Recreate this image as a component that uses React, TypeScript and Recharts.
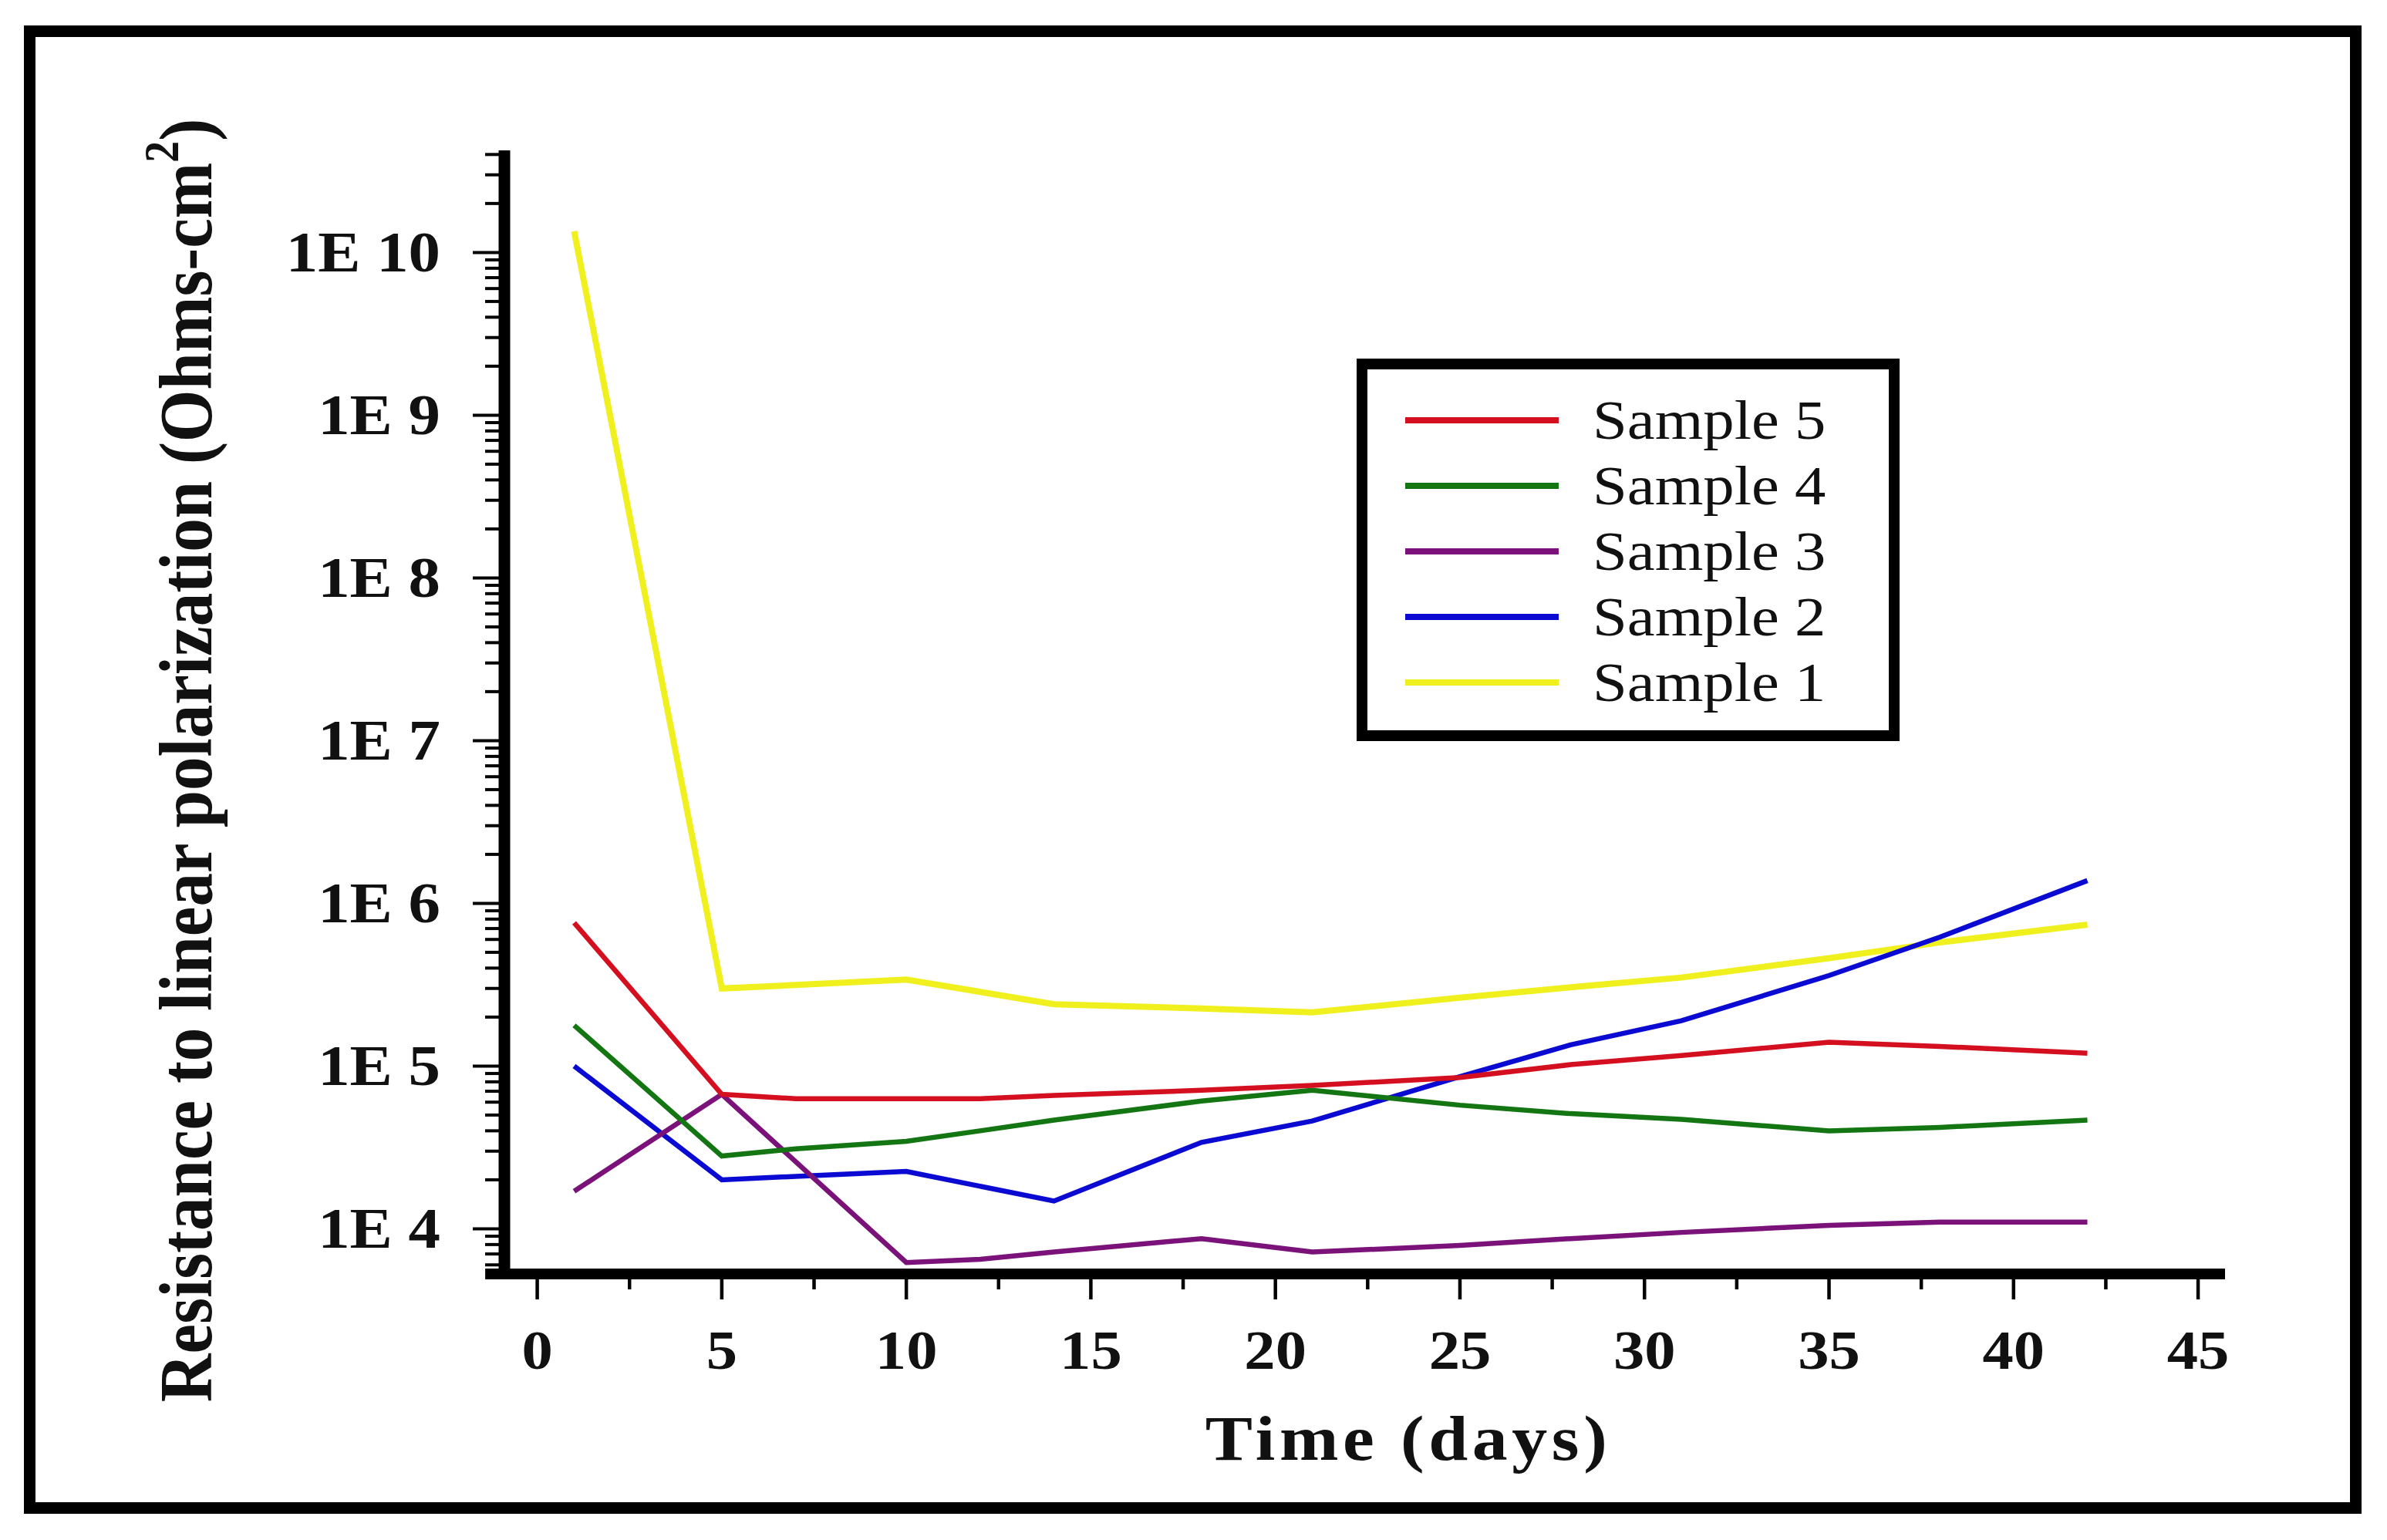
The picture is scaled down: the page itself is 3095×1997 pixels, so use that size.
import React from "react";
import { LineChart, Line, XAxis, YAxis, Legend, ReferenceLine } from "recharts";

const FONT = 'Liberation Serif, "Times New Roman", Times, serif';

const days1 = [1, 5, 7, 10, 14, 18, 21, 25, 28, 31, 35, 38, 42];
const sample1 = [1.35e10, 3.0e5, 3.15e5, 3.4e5, 2.4e5, 2.26e5, 2.14e5, 2.63e5, 3.05e5, 3.5e5, 4.6e5, 5.75e5, 7.4e5];

const days2 = [1, 5, 7, 10, 14, 18, 21, 25, 28, 31, 35, 38, 42];
const sample2 = [1.0e5, 2.0e4, 2.1e4, 2.25e4, 1.48e4, 3.4e4, 4.6e4, 8.6e4, 1.35e5, 1.9e5, 3.6e5, 6.2e5, 1.38e6];

const days3 = [1, 5, 10, 12, 14, 18, 21, 25, 28, 31, 35, 38, 42];
const sample3 = [1.7e4, 6.7e4, 6.2e3, 6.5e3, 7.2e3, 8.7e3, 7.2e3, 7.9e3, 8.7e3, 9.5e3, 1.05e4, 1.1e4, 1.1e4];

const days4 = [1, 5, 7, 10, 12, 14, 18, 21, 25, 28, 31, 35, 38, 42];
const sample4 = [1.78e5, 2.8e4, 3.1e4, 3.45e4, 4.0e4, 4.65e4, 6.1e4, 7.1e4, 5.75e4, 5.1e4, 4.7e4, 4.0e4, 4.2e4, 4.65e4];

const days5 = [1, 5, 7, 10, 12, 14, 18, 21, 25, 28, 31, 35, 38, 42];
const sample5 = [7.6e5, 6.7e4, 6.3e4, 6.3e4, 6.3e4, 6.6e4, 7.1e4, 7.6e4, 8.5e4, 1.02e5, 1.16e5, 1.4e5, 1.32e5, 1.2e5];

const xTicks = [0, 2.5, 5, 7.5, 10, 12.5, 15, 17.5, 20, 22.5, 25, 27.5, 30, 32.5, 35, 37.5, 40, 42.5, 45];
const yMajorTicks = [1e4, 1e5, 1e6, 1e7, 1e8, 1e9, 1e10];
const yLabels = ["1E 4", "1E 5", "1E 6", "1E 7", "1E 8", "1E 9", "1E 10"];

const X_MIN = -0.89;
const X_MAX = 45.73;
const Y_MIN = 5277;
const Y_MAX = 4.24e10;

// log minor ticks 2..9 in every decade, kept inside the axis range
const yTicks = [1e3, ...yMajorTicks]
  .flatMap((m) => [1, 2, 3, 4, 5, 6, 7, 8, 9].map((k) => k * m))
  .filter((v) => v >= Y_MIN && v <= Y_MAX);

const series = [
  { name: "Sample 1", days: days1, values: sample1, color: "#f0f01e", width: 8 },
  { name: "Sample 2", days: days2, values: sample2, color: "#0a0ad2", width: 6.5 },
  { name: "Sample 3", days: days3, values: sample3, color: "#7a127a", width: 6.5 },
  { name: "Sample 4", days: days4, values: sample4, color: "#137613", width: 6.5 },
  { name: "Sample 5", days: days5, values: sample5, color: "#d41020", width: 6.5 },
];

function YTick({ x, y, payload }: any) {
  const i = yMajorTicks.indexOf(payload.value);
  const major = i >= 0;
  return (
    <g>
      <line x1={x - (major ? 41 : 25)} x2={x} y1={y} y2={y} stroke="#000" strokeWidth={4} />
      {major && (
        <text
          transform={`translate(${x - 83},${y}) scale(1.12,1)`}
          textAnchor="end"
          dy="0.33em"
          fontSize={74}
          fontWeight="bold"
          fontFamily={FONT}
          fill="#111"
        >
          {yLabels[i]}
        </text>
      )}
    </g>
  );
}

function XTick({ x, y, payload }: any) {
  const major = payload.value % 5 === 0;
  return (
    <g>
      <line x1={x} x2={x} y1={y} y2={y + (major ? 33 : 20)} stroke="#000" strokeWidth={4.5} />
      {major && (
        <text
          transform={`translate(${x},${y + 123}) scale(1.12,1)`}
          textAnchor="middle"
          fontSize={72}
          fontWeight="bold"
          fontFamily={FONT}
          fill="#111"
        >
          {payload.value}
        </text>
      )}
    </g>
  );
}

function XTitle({ viewBox }: any) {
  return (
    <text
      transform={`translate(${viewBox.x + 1172},${viewBox.y + 241}) scale(1.12,1)`}
      textAnchor="middle"
      fontSize={82}
      fontWeight="bold"
      fontFamily={FONT}
      letterSpacing={5}
      fill="#111"
    >
      Time (days)
    </text>
  );
}

function YTitle({ viewBox }: any) {
  return (
    <text
      transform={`translate(274,${viewBox.y + 791}) scale(1.12,1) rotate(-90)`}
      textAnchor="middle"
      fontSize={87}
      fontWeight="bold"
      fontFamily={FONT}
      fill="#111"
    >
      Resistance to linear polarization (Ohms-cm
      <tspan dy={-38} fontSize={56}>2</tspan>
      <tspan dy={38}>)</tspan>
    </text>
  );
}

function LegendBox({ payload }: any) {
  const items = [...(payload ?? [])].reverse();
  return (
    <div
      style={{
        width: 704,
        height: 496,
        boxSizing: "border-box",
        border: "14px solid #000",
        paddingTop: 23,
        background: "#fff",
      }}
    >
      {items.map((it: any) => (
        <div key={it.value} style={{ height: 85, display: "flex", alignItems: "center" }}>
          <div style={{ marginLeft: 49, width: 199, height: 8, background: it.color }} />
          <span
            style={{
              marginLeft: 44,
              fontSize: 72,
              lineHeight: 1,
              fontFamily: FONT,
              color: "#111",
              display: "inline-block",
              transform: "scaleX(1.12)",
              transformOrigin: "left center",
              whiteSpace: "nowrap",
            }}
          >
            {it.value}
          </span>
        </div>
      ))}
    </div>
  );
}

export default function App() {
  return (
    <div style={{ position: "absolute", left: 0, top: 0, width: 3095, height: 1997, background: "#fff" }}>
      <div
        style={{
          position: "absolute",
          left: 31,
          top: 33,
          width: 3031,
          height: 1930,
          boxSizing: "border-box",
          border: "15px solid #000",
        }}
      />
      <div style={{ position: "absolute", left: 0, top: 0 }}>
        <LineChart width={3095} height={1997} margin={{ top: 195, right: 210, bottom: 0, left: 0 }}>
          <XAxis
            dataKey="day"
            type="number"
            domain={[X_MIN, X_MAX]}
            ticks={xTicks}
            interval={0}
            allowDataOverflow
            axisLine={false}
            tickLine={false}
            tickSize={0}
            tickMargin={0}
            tick={<XTick />}
            height={345}
            label={(props: any) => <XTitle {...props} />}
          />
          <YAxis
            dataKey="value"
            type="number"
            scale="log"
            domain={[Y_MIN, Y_MAX]}
            ticks={yTicks}
            interval={0}
            allowDataOverflow
            axisLine={{ stroke: "#000", strokeWidth: 15 }}
            tickLine={false}
            tickSize={0}
            tickMargin={0}
            tick={<YTick />}
            width={654}
            label={(props: any) => <YTitle {...props} />}
          />
          <ReferenceLine
            segment={[
              { x: -1.41, y: Y_MIN },
              { x: X_MAX, y: Y_MIN },
            ]}
            stroke="#000"
            strokeWidth={14}
            ifOverflow="visible"
          />
          {series.map((s) => (
            <Line
              key={s.name}
              data={s.days.map((d, i) => ({ day: d, value: s.values[i] }))}
              dataKey="value"
              name={s.name}
              type="linear"
              stroke={s.color}
              strokeWidth={s.width}
              dot={false}
              isAnimationActive={false}
            />
          ))}
          <Legend
            layout="vertical"
            align="center"
            verticalAlign="middle"
            content={<LegendBox />}
            wrapperStyle={{ position: "absolute", left: 1759, top: 465, width: 704, height: 496 }}
          />
        </LineChart>
      </div>
    </div>
  );
}
